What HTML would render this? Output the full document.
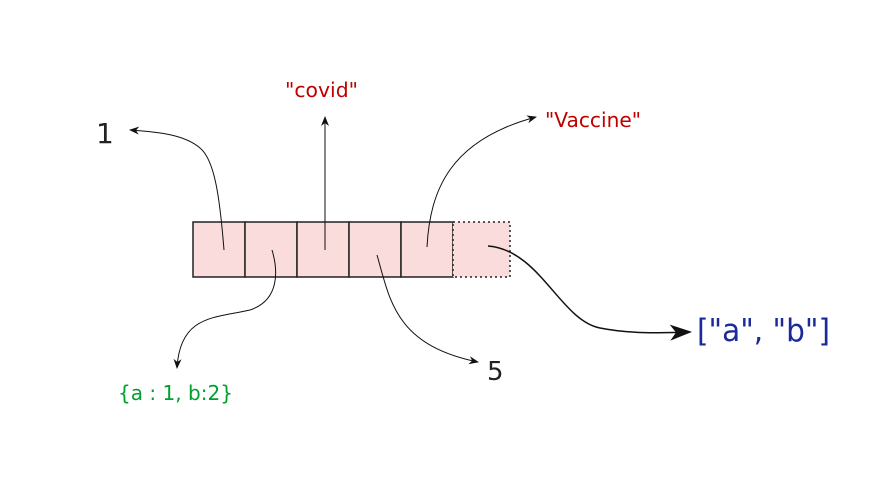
<!DOCTYPE html>
<html><head><meta charset="utf-8"><style>
html,body{margin:0;padding:0;background:#fff;}
svg{display:block;}
text{font-family:"DejaVu Sans","Liberation Sans",sans-serif;}
</style></head><body>
<svg width="896" height="498" viewBox="0 0 896 498">
<defs>
<marker id="ah" markerWidth="10" markerHeight="8" refX="9" refY="4" orient="auto" markerUnits="userSpaceOnUse"><path d="M0,0 L10,4 L0,8 L3,4 Z" fill="#111"/></marker>
<marker id="ahb" markerWidth="22" markerHeight="16" refX="20" refY="8" orient="auto" markerUnits="userSpaceOnUse"><path d="M0,0 L22,8 L0,16 L6,8 Z" fill="#111"/></marker>
</defs>
<g fill="#fadcdc" stroke="#222" stroke-width="1.5">
<rect x="193" y="222" width="52" height="55"/>
<rect x="245" y="222" width="52" height="55"/>
<rect x="297" y="222" width="52" height="55"/>
<rect x="349" y="222" width="52" height="55"/>
<rect x="401" y="222" width="52" height="55"/>
<rect x="453" y="222" width="57" height="55" stroke-dasharray="2,3"/>
</g>
<g fill="none" stroke="#111" stroke-width="1">
<path d="M224,250 C220,200 215,160 200,148 C185,135 160,132 130,130" marker-end="url(#ah)"/>
<path d="M325,250 L325,117" marker-end="url(#ah)"/>
<path d="M427,247 C430,190 450,140 536,117" marker-end="url(#ah)"/>
<path d="M272,250 C278,270 280,300 250,310 C215,318 180,315 177,368" marker-end="url(#ah)"/>
<path d="M377,255 C390,300 395,345 478,362" marker-end="url(#ah)"/>
<path stroke-width="1.5" d="M488,246 C540,250 560,320 600,328 C630,334 660,333 690,332" marker-end="url(#ahb)"/>
</g>
<text x="96" y="143" font-size="28" fill="#222">1</text>
<text x="285" y="97" font-size="20" fill="#c00000" textLength="73" lengthAdjust="spacingAndGlyphs">"covid"</text>
<text x="545" y="127" font-size="20" fill="#c00000" textLength="96" lengthAdjust="spacingAndGlyphs">"Vaccine"</text>
<text x="118" y="400" font-size="20" fill="#00a030" textLength="115" lengthAdjust="spacingAndGlyphs">{a : 1, b:2}</text>
<text x="487" y="380" font-size="26" fill="#222">5</text>
<text x="697" y="341" font-size="31" fill="#1a2a99" textLength="133" lengthAdjust="spacingAndGlyphs">["a", "b"]</text>
</svg>
</body></html>
